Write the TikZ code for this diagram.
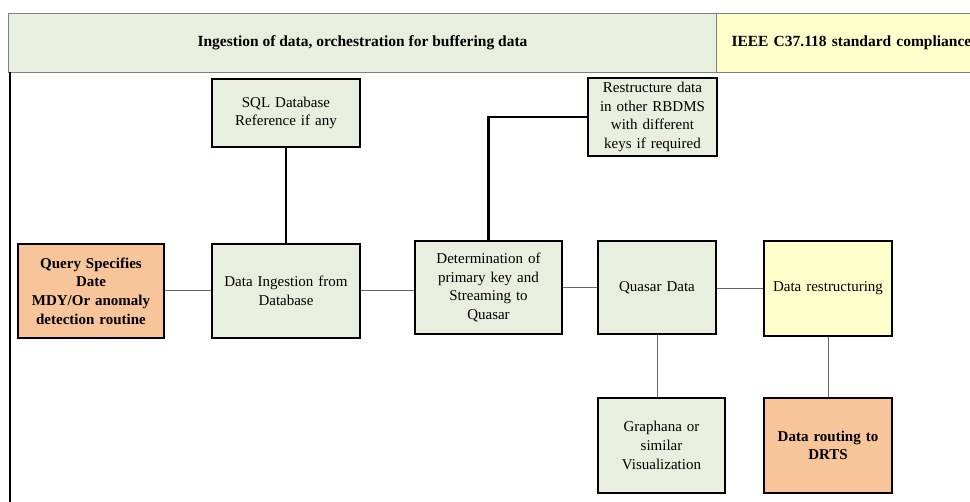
\documentclass[tikz,border=0pt]{standalone}
\usepackage{fontspec}
\setmainfont{Liberation Serif}
\usetikzlibrary{positioning}
\definecolor{palegreen}{RGB}{233, 239, 222}
\definecolor{paleyellow}{RGB}{255, 255, 204}
\definecolor{paleorange}{RGB}{248, 196, 154}

\begin{document}
\begin{tikzpicture}[x=1pt, y=-1pt,
  every node/.style={font=\fontsize{15}{18.7}\selectfont},
  box/.style={draw=black, line width=2.4pt, fill=palegreen, align=center, inner sep=2pt},
  hdr/.style={draw=gray, line width=1pt, fill=palegreen, align=center, font=\fontsize{15.5}{18}\selectfont\bfseries},
  thin/.style={draw=gray!80!black, line width=1pt},
  thick/.style={draw=black, line width=2.6pt}]
  \useasboundingbox (0,0) rectangle (970,502);

  % header band
  \node[hdr, minimum width=708pt, minimum height=59pt, anchor=north west] (lane) at (8,13) {Ingestion of data, orchestration for buffering data};
  \node[hdr, fill=paleyellow, minimum width=270pt, minimum height=59pt, anchor=north west, text width=240pt, align=left] (ieee) at (716,13) {IEEE C37.118 standard compliance};
  \draw[line width=2pt] (10,72) -- (10,502);

  \node[box, fill=paleorange, minimum width=146pt, minimum height=94pt, text width=140pt, font=\fontsize{15}{18.7}\selectfont\bfseries] (query) at (91,291) {Query Specifies\\Date\\MDY/Or anomaly\\detection routine};

  \node[box, minimum width=148pt, minimum height=94pt, text width=140pt] (ingest) at (286,291) {Data Ingestion from\\Database};

  \node[box, minimum width=148pt, minimum height=68pt, text width=140pt] (sql) at (286,113) {SQL Database\\Reference if any};

  \node[box, minimum width=147pt, minimum height=93pt, text width=140pt] (primkey) at (488.5,287.5) {Determination of\\primary key and\\Streaming to\\Quasar};

  \node[box, minimum width=129pt, minimum height=78pt, text width=125pt] (rdbms) at (652.5,117) {Restructure data\\in other RBDMS\\with different\\keys if required};

  \node[box, minimum width=118pt, minimum height=93pt, text width=112pt] (quasar) at (657,287.5) {Quasar Data};

  \node[box, fill=paleyellow, minimum width=128pt, minimum height=95pt, text width=122pt] (restruct) at (828,288.5) {Data restructuring};

  \node[box, minimum width=127pt, minimum height=95pt, text width=120pt] (graphana) at (661.5,445.5) {Graphana or\\similar\\Visualization};

  \node[box, fill=paleorange, minimum width=128pt, minimum height=95pt, text width=122pt, font=\fontsize{15}{18.7}\selectfont\bfseries] (routing) at (828,445.5) {Data routing to\\DRTS};

  \path[thin] (query) -- (ingest);
  \path[thin] (ingest) -- (primkey.west |- ingest);
  \path[thin] (primkey) -- (quasar);
  \path[thin] (quasar.east |- restruct.west) -- (restruct.west);
  \path[thin] (quasar) -- (quasar |- graphana.north);
  \path[thin] (restruct) -- (routing);
  \path[thick] (sql) -- (ingest);
  \path[thick] (primkey.north) |- (rdbms.west);
\end{tikzpicture}
\end{document}
